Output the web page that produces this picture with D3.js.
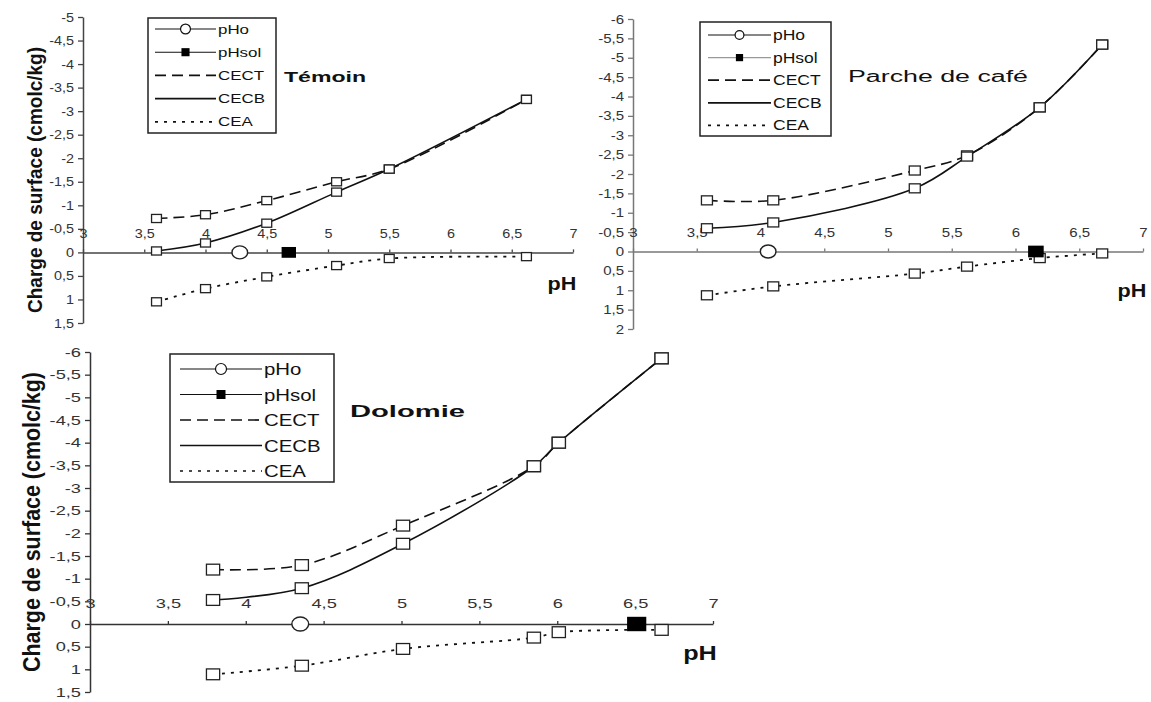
<!DOCTYPE html>
<html>
<head>
<meta charset="utf-8">
<script src="https://cdn.jsdelivr.net/npm/d3@7"></script>
<style>
    body { margin: 0; background: #fff; }
    svg { font-family: "Liberation Sans", Arial, sans-serif; }
</style>
</head>
<body>
<svg id="chart" width="1151" height="702"></svg>
<script>
// Common labels
const legendNames = ['pHo', 'pHsol', 'CECT', 'CECB', 'CEA'];
const xTickValues = [3, 3.5, 4, 4.5, 5, 5.5, 6, 6.5, 7];
const yTicksTemoin = [-5, -4.5, -4, -3.5, -3, -2.5, -2, -1.5, -1, -0.5, 0, 0.5, 1, 1.5];
const yTicksCafe = [-6, -5.5, -5, -4.5, -4, -3.5, -3, -2.5, -2, -1.5, -1, -0.5, 0, 0.5, 1, 1.5, 2];
const yTicksDolomie = [-6, -5.5, -5, -4.5, -4, -3.5, -3, -2.5, -2, -1.5, -1, -0.5, 0, 0.5, 1, 1.5];

// Témoin
const temoinPH = [3.6, 4.0, 4.5, 5.07, 5.5, 6.62];
const temoinCECT = [-0.72, -0.8, -1.1, -1.5, -1.77, -3.25];
const temoinCECB = [-0.03, -0.2, -0.62, -1.28, -1.77, -3.25];
const temoinCEA = [1.05, 0.77, 0.52, 0.28, 0.13, 0.09];
const temoinPHo = 4.28;
const temoinPHsol = 4.68;

// Parche de café
const cafePH = [3.58, 4.1, 5.21, 5.62, 6.19, 6.68];
const cafeCECT = [-1.32, -1.32, -2.09, -2.48, -3.72, -5.34];
const cafeCECB = [-0.6, -0.75, -1.63, -2.45, -3.72, -5.34];
const cafeCEA = [1.13, 0.9, 0.57, 0.39, 0.17, 0.05];
const cafePHo = 4.06;
const cafePHsol = 6.16;

// Dolomie
const dolomiePH = [3.79, 4.36, 5.01, 5.85, 6.01, 6.67];
const dolomieCECT = [-1.2, -1.3, -2.17, -3.48, -4.0, -5.86];
const dolomieCECB = [-0.53, -0.79, -1.77, -3.48, -4.0, -5.86];
const dolomieCEA = [1.11, 0.92, 0.55, 0.3, 0.18, 0.13];
const dolomiePHo = 4.35;
const dolomiePHsol = 6.51;

const svg = d3.select('#chart');
const fmt = d => String(d).replace('.', ',');
const dashes = { CECT: '11,6', CECB: null, CEA: '3,6' };

// widen a text element horizontally (the source picture is stretched)
function stretch(sel, k) {
    sel.each(function() {
        const len = this.getComputedTextLength();
        d3.select(this).attr('textLength', len * k).attr('lengthAdjust', 'spacingAndGlyphs');
    });
}

function drawPanel(p) {
    const g = svg.append('g');
    const x = d3.scaleLinear().domain([3, 7]).range([p.left, p.right]);
    const y = d3.scaleLinear()
        .domain([p.yTicks[0], p.yTicks[p.yTicks.length - 1]])
        .range([p.top, p.bottom]);

    // y axis
    const ya = g.append('g')
        .attr('transform', `translate(${p.left},0)`)
        .call(d3.axisLeft(y).tickValues(p.yTicks).tickSize(5).tickSizeOuter(0).tickPadding(4).tickFormat(fmt));

    // x axis crossing at 0, labels above
    const xa = g.append('g')
        .attr('transform', `translate(0,${y(0)})`)
        .call(d3.axisTop(x).tickValues(xTickValues).tickSize(3).tickSizeOuter(0).tickPadding(p.xPad).tickFormat(fmt));

    [ya, xa].forEach(a => {
        a.select('.domain').attr('stroke', p.axisColor).attr('stroke-width', 1.5);
        a.selectAll('.tick line').attr('stroke', p.axisColor).attr('stroke-width', 1.3);
        a.selectAll('text').attr('fill', '#333').style('font-size', p.tickFont + 'px');
        stretch(a.selectAll('text'), p.tickStretch);
    });

    // curves
    const line = d3.line()
        .x(d => x(d[0]))
        .y(d => y(d[1]))
        .curve(d3.curveCatmullRom.alpha(0.5));

    const series = [
        { name: 'CECT', values: p.cect },
        { name: 'CECB', values: p.cecb },
        { name: 'CEA', values: p.cea }
    ];

    series.forEach(s => {
        const pts = p.ph.map((v, i) => [v, s.values[i]]);
        g.append('path')
            .datum(pts)
            .attr('d', line)
            .attr('fill', 'none')
            .attr('stroke', '#111')
            .attr('stroke-width', s.name === 'CEA' ? 1.8 : 1.6)
            .attr('stroke-dasharray', dashes[s.name]);
    });

    series.forEach(s => {
        const pts = p.ph.map((v, i) => [v, s.values[i]]);
        g.selectAll(null)
            .data(pts)
            .enter()
            .append('rect')
            .attr('x', d => x(d[0]) - p.mark * 0.55)
            .attr('y', d => y(d[1]) - p.mark * 0.45)
            .attr('width', p.mark * 1.1)
            .attr('height', p.mark * 0.9)
            .attr('fill', '#fff')
            .attr('stroke', '#222')
            .attr('stroke-width', 1.3);
    });

    // pHo and pHsol on the zero line
    g.append('ellipse')
        .attr('cx', x(p.pho))
        .attr('cy', y(0))
        .attr('rx', p.circ * 1.2)
        .attr('ry', p.circ)
        .attr('fill', '#fff')
        .attr('stroke', '#222')
        .attr('stroke-width', 1.4);

    g.append('rect')
        .attr('x', x(p.phsol) - p.sol * 0.6)
        .attr('y', y(0) - p.sol * 0.45)
        .attr('width', p.sol * 1.2)
        .attr('height', p.sol * 0.9)
        .attr('fill', '#000');

    // legend
    const L = p.legend;
    const lg = g.append('g');
    lg.append('rect')
        .attr('x', L.x).attr('y', L.y)
        .attr('width', L.w).attr('height', L.h)
        .attr('fill', '#fff')
        .attr('stroke', '#222')
        .attr('stroke-width', 1.5);

    legendNames.forEach((name, i) => {
        const ry = L.y0 + i * L.step;
        const mid = (L.x0 + L.x1) / 2;
        const ln = lg.append('line')
            .attr('x1', L.x0).attr('x2', L.x1)
            .attr('y1', ry).attr('y2', ry)
            .attr('stroke', name === 'pHsol' && p.lightSol ? '#999' : '#111')
            .attr('stroke-width', name === 'pHo' || name === 'pHsol' ? 1.1 : 1.7);
        if (dashes[name]) ln.attr('stroke-dasharray', dashes[name]);
        if (name === 'pHo') {
            lg.append('circle').attr('cx', mid).attr('cy', ry).attr('r', L.sym * 0.55)
                .attr('fill', '#fff').attr('stroke', '#111').attr('stroke-width', 1.2);
        }
        if (name === 'pHsol') {
            lg.append('rect').attr('x', mid - L.sym * 0.45).attr('y', ry - L.sym * 0.45)
                .attr('width', L.sym * 0.9).attr('height', L.sym * 0.9).attr('fill', '#000');
        }
        const t = lg.append('text')
            .attr('x', L.tx)
            .attr('y', ry + L.font * 0.36)
            .attr('fill', '#111')
            .style('font-size', L.font + 'px')
            .text(name);
        stretch(t, L.k);
    });

    // treatment label
    g.append('text')
        .attr('x', p.title.x)
        .attr('y', p.title.y)
        .attr('fill', '#111')
        .style('font-size', p.title.size + 'px')
        .style('font-weight', p.title.bold ? 'bold' : 'normal')
        .attr('textLength', p.title.len)
        .attr('lengthAdjust', 'spacingAndGlyphs')
        .text(p.title.text);

    // pH label
    const ph = g.append('text')
        .attr('x', p.phLabel.x)
        .attr('y', p.phLabel.y)
        .attr('text-anchor', 'middle')
        .attr('fill', '#111')
        .style('font-size', p.phLabel.size + 'px')
        .style('font-weight', 'bold')
        .text('pH');
    stretch(ph, 1.2);

    // y title
    if (p.yTitle) {
        g.append('text')
            .attr('transform', `translate(${p.yTitle.x},${p.yTitle.y}) rotate(-90)`)
            .attr('text-anchor', 'middle')
            .attr('fill', '#111')
            .style('font-size', p.yTitle.size + 'px')
            .style('font-weight', 'bold')
            .attr('textLength', p.yTitle.len)
            .attr('lengthAdjust', 'spacingAndGlyphs')
            .text('Charge de surface (cmolc/kg)');
    }
}

drawPanel({
    left: 83, right: 573, top: 17, bottom: 323,
    yTicks: yTicksTemoin, axisColor: '#444', tickFont: 12.5, tickStretch: 1.15, xPad: 11,
    ph: temoinPH, cect: temoinCECT, cecb: temoinCECB, cea: temoinCEA,
    pho: temoinPHo, phsol: temoinPHsol,
    mark: 9, circ: 6.5, sol: 12,
    legend: { x: 148, y: 18, w: 128, h: 115, y0: 29, step: 23.2, x0: 155, x1: 216, tx: 218, font: 13, k: 1.3, sym: 9 },
    title: { text: 'Témoin', x: 284, y: 82, size: 15, bold: true, len: 82 },
    phLabel: { x: 562, y: 290, size: 18 },
    yTitle: { x: 42, y: 180, size: 21, len: 266 }
});

drawPanel({
    left: 633, right: 1143, top: 19, bottom: 329,
    yTicks: yTicksCafe, axisColor: '#777', tickFont: 12.5, tickStretch: 1.2, xPad: 12,
    ph: cafePH, cect: cafeCECT, cecb: cafeCECB, cea: cafeCEA,
    pho: cafePHo, phsol: cafePHsol,
    mark: 10, circ: 6.5, sol: 13, lightSol: true,
    legend: { x: 700, y: 22, w: 131, h: 114, y0: 35, step: 22.6, x0: 708, x1: 771, tx: 773, font: 14, k: 1.25, sym: 8 },
    title: { text: 'Parche de café', x: 848, y: 82, size: 16, bold: false, len: 180 },
    phLabel: { x: 1132, y: 297, size: 18 }
});

drawPanel({
    left: 90, right: 713, top: 352, bottom: 692,
    yTicks: yTicksDolomie, axisColor: '#333', tickFont: 13.5, tickStretch: 1.35, xPad: 13,
    ph: dolomiePH, cect: dolomieCECT, cecb: dolomieCECB, cea: dolomieCEA,
    pho: dolomiePHo, phsol: dolomiePHsol,
    mark: 12, circ: 7, sol: 16,
    legend: { x: 170, y: 354, w: 164, h: 128, y0: 369, step: 25.5, x0: 180, x1: 262, tx: 264, font: 17, k: 1.2, sym: 10 },
    title: { text: 'Dolomie', x: 350, y: 417, size: 17, bold: true, len: 115 },
    phLabel: { x: 700, y: 660, size: 21 },
    yTitle: { x: 40, y: 522, size: 24, len: 300 }
});
</script>
</body>
</html>
